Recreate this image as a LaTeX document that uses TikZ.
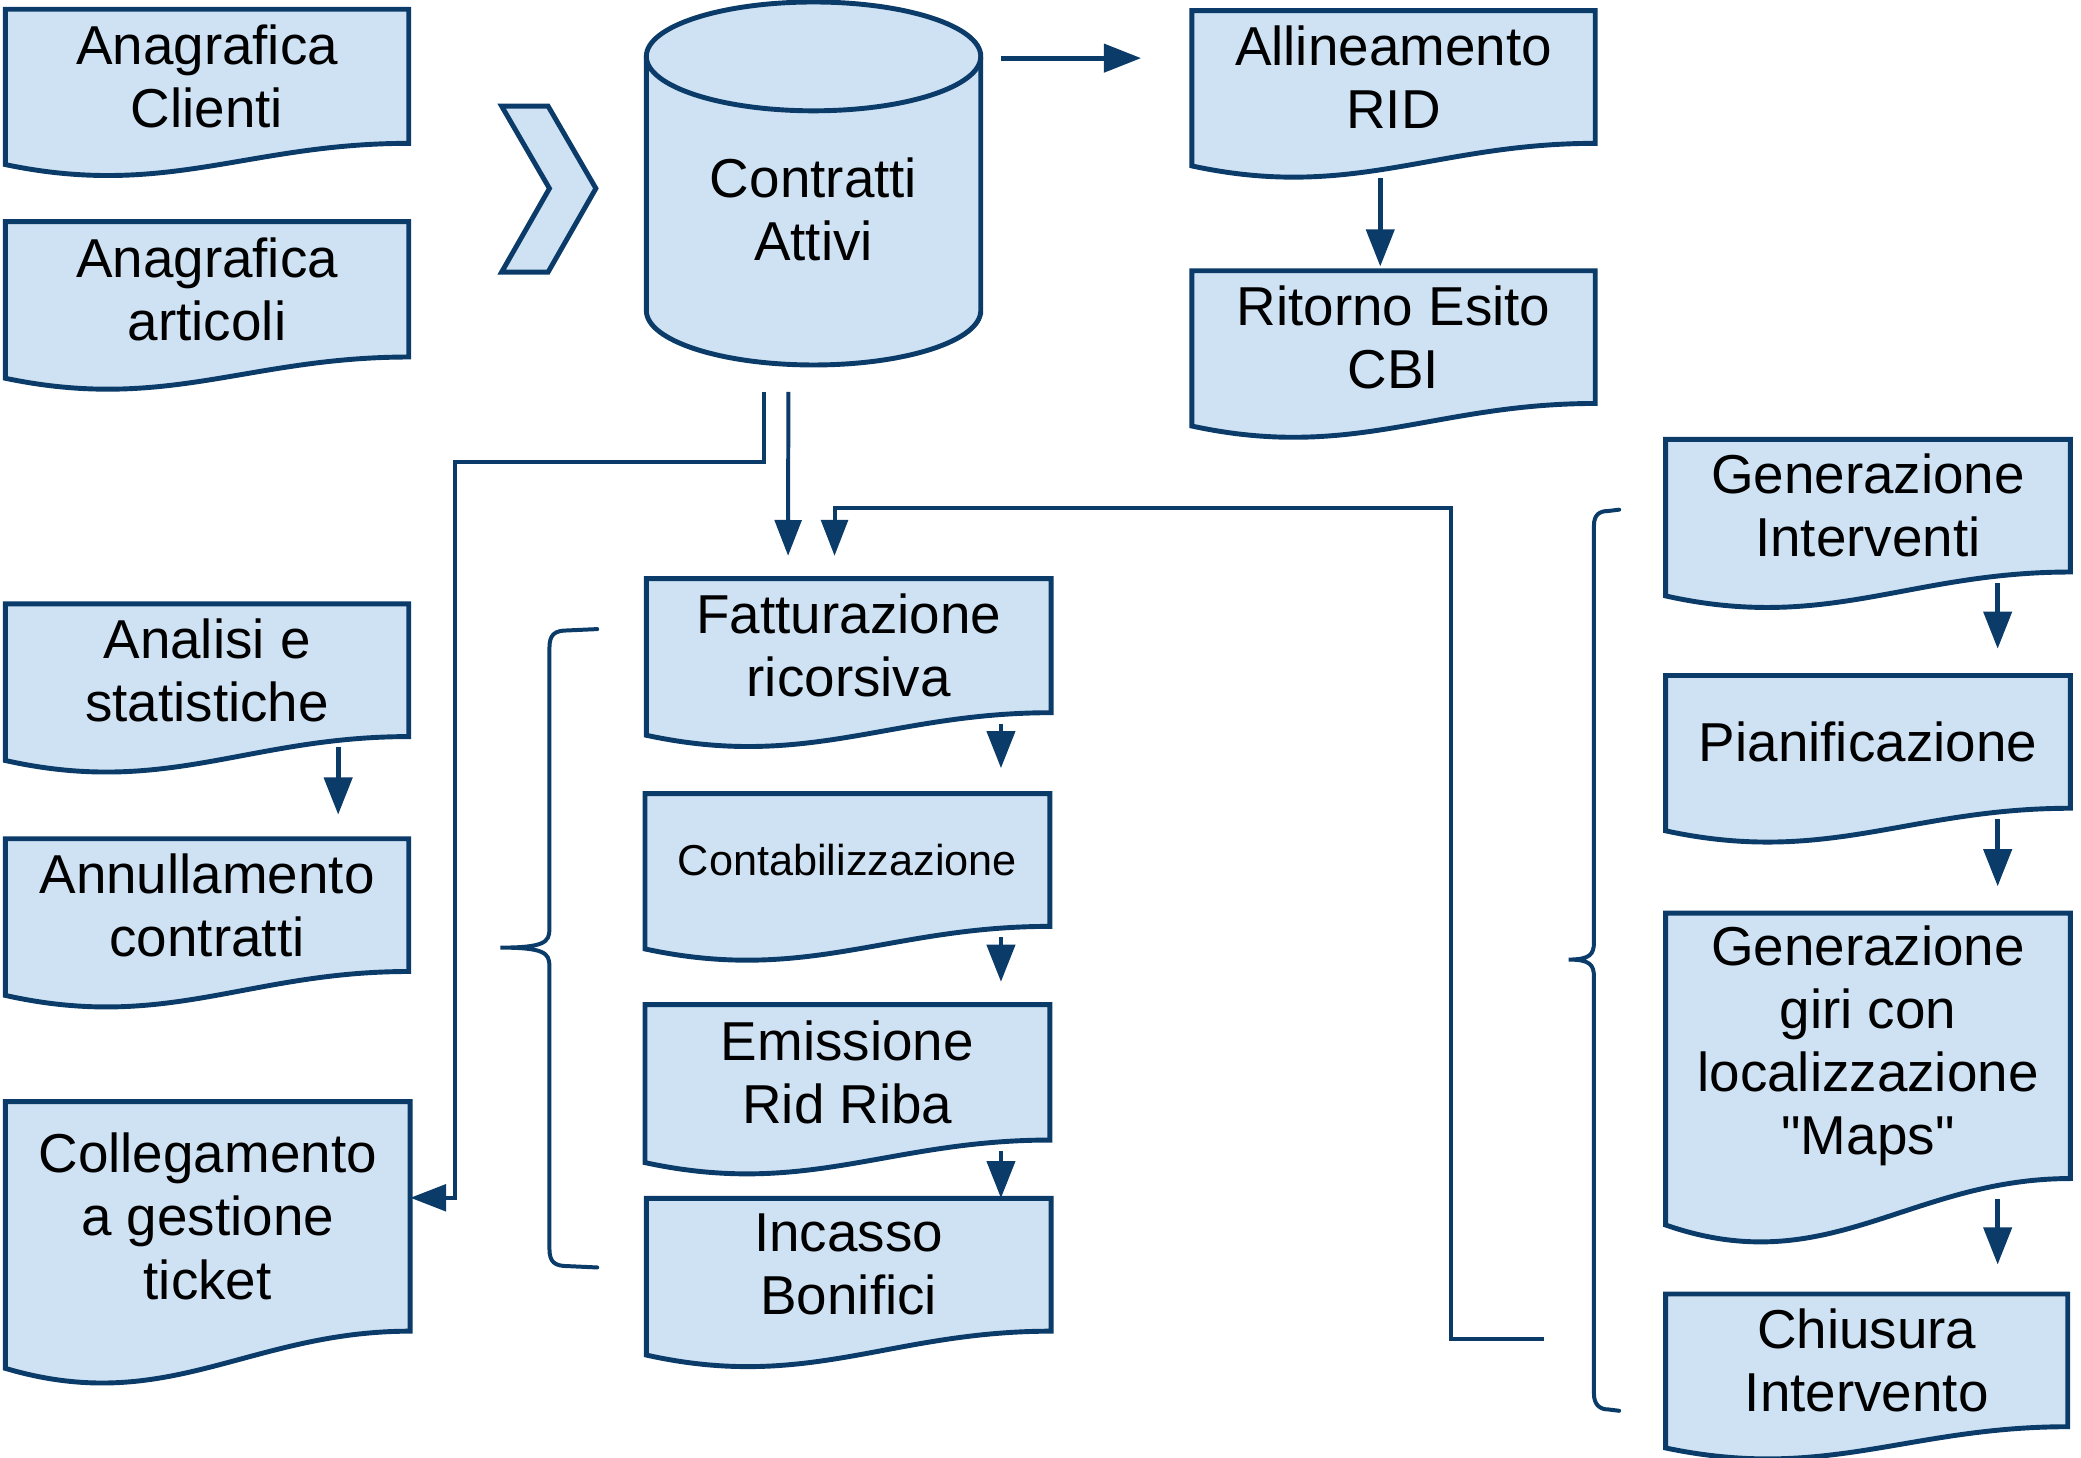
\documentclass[tikz,border=0pt]{standalone}
\usepackage{fontspec}
\setmainfont{Liberation Sans}
\usetikzlibrary{arrows.meta,calc}
\definecolor{boxfill}{HTML}{CFE2F3}
\definecolor{navy}{HTML}{0B3B68}
\tikzset{
  docshape/.style={fill=boxfill, draw=navy, line width=3.7pt, line join=miter},
  doctext/.style={inner sep=0pt, align=center, text=black, font=\fontsize{41.3}{47.5}\selectfont},
  smalltext/.style={font=\fontsize{32.6}{38}\selectfont},
  conn/.style={draw=navy, line width=3pt},
  arr/.style={conn, line width=3.6pt, -{Triangle[length=28pt,width=21pt]}},
  longarr/.style={conn, -{Triangle[length=27pt,width=20pt]}},
  bracestyle/.style={draw=navy, line width=3pt, line cap=round},
}
% #1 name, #2 left, #3 top, #4 right, #5 bottom (right corner), #6 wave drop, #7 node options, #8 text
\newcommand\docbox[8]{%
  \pgfmathsetmacro\dbw{#4-#2}%
  \pgfmathsetmacro\dbh{#5-#3}%
  \pgfmathsetmacro\dbd{0.9*#6+11}%
  \path[docshape] (#2,#3) -- (#4,#3) -- (#4,#5)
     .. controls ({#2+0.6*\dbw},#5) and ({#2+0.4*\dbw},{#5+#6+\dbd}) .. (#2,{#5+#6}) -- cycle;
  \node[doctext, minimum width=\dbw*1pt, minimum height=\dbh*1pt, #7] (#1) at ({(#2+#4)/2},{(#3+#5)/2}) {#8};
}
\begin{document}
\begin{tikzpicture}[x=1pt,y=-1pt]
\useasboundingbox (0,0) rectangle (1568,1098);

% left column
\docbox{ana1}{4}{7}{308}{108}{16}{}{Anagrafica\\Clienti}
\docbox{ana2}{4}{167}{308}{269}{16}{}{Anagrafica\\articoli}
\docbox{analisi}{4}{455}{308}{555}{18}{}{Analisi e\\statistiche}
\docbox{annul}{4}{632}{308}{732}{18}{}{Annullamento\\contratti}
\docbox{colleg}{4}{830}{309}{1003}{28}{}{Collegamento\\a gestione\\ticket}

% chevron
\path[docshape] (378,80) -- (413,80) -- (449,142) -- (413,205) -- (378,205) -- (414,142) -- cycle;

% cylinder
\path[docshape] (487,42.5) -- (487,234) .. controls (487,256.6) and (543.4,275) .. (613,275)
  .. controls (682.6,275) and (739,256.6) .. (739,234) -- (739,42.5)
  .. controls (739,19.9) and (682.6,1.5) .. (613,1.5)
  .. controls (543.4,1.5) and (487,19.9) .. (487,42.5) -- cycle;
\draw[navy, line width=3.7pt] (487,42.5) .. controls (487,65.1) and (543.4,83.5) .. (613,83.5)
  .. controls (682.6,83.5) and (739,65.1) .. (739,42.5);
\node[doctext, minimum width=252pt, minimum height=234pt] (cyl) at (613,158) {Contratti\\Attivi};

% top right
\docbox{allin}{898}{8}{1202}{108}{17}{}{Allineamento\\RID}
\docbox{ritorno}{898}{204}{1202}{304}{17}{}{Ritorno Esito\\CBI}

% middle column
\docbox{fatt}{487}{436}{792}{537}{17}{}{Fatturazione\\ricorsiva}
\docbox{contab}{486}{598}{791}{698}{17}{smalltext}{Contabilizzazione}
\docbox{emiss}{486}{757}{791}{859}{17}{}{Emissione\\Rid Riba}
\docbox{incasso}{487}{903}{792}{1003}{18}{}{Incasso\\Bonifici}

% right column
\docbox{genint}{1255}{331}{1560}{431}{18}{}{Generazione\\Interventi}
\docbox{pian}{1255}{509}{1560}{609}{17}{}{Pianificazione}
\docbox{giri}{1255}{688}{1560}{888}{35}{}{Generazione\\giri con\\localizzazione\\\textquotedbl Maps\textquotedbl}
\docbox{chius}{1255}{975}{1558}{1075}{16}{}{Chiusura\\Intervento}

% arrows
\draw[arr] ($(cyl.north east)+(15,3)$) -- ($(allin.north west)+(-38,36)$);
\draw[arr] ($(allin.south)+(-10,26)$) -- ($(ritorno.north)+(-10,-3)$);
\draw[arr] ($(analisi.south west)+(251,8)$) -- ($(annul.north west)+(251,-18)$);
\draw[arr] ($(fatt.south east)+(-38,8)$) -- ($(contab.north east)+(-37,-19)$);
\draw[arr] ($(contab.south east)+(-37,8)$) -- ($(emiss.north east)+(-37,-17)$);
\draw[arr] ($(emiss.south east)+(-37,8)$) -- ($(incasso.north east)+(-38,0)$);
\draw[arr] ($(genint.south east)+(-55,8)$) -- ($(pian.north east)+(-55,-20)$);
\draw[arr] ($(pian.south east)+(-55,8)$) -- ($(giri.north east)+(-55,-20)$);
\draw[arr] ($(giri.south east)+(-55,15)$) -- ($(chius.north east)+(-53,-22)$);

% connectors from the database
\coordinate (k1) at (343,348);
\draw[longarr] ($(cyl.south)+(-37,20)$) |- (k1) |- ($(colleg.east)+(0,-14)$);
\draw[longarr] ($(cyl.south)+(-19,20)$) -- ($(fatt.north west)+(107,-17)$);
\coordinate (c3) at (1163,1009);
\coordinate (k3) at (1093,383);
\draw[longarr] (c3) -| (k3) -| ($(fatt.north west)+(142,-17)$);

% braces
\draw[bracestyle] (450,474) -- (428,475) .. controls (418,475) and (414,478) .. (414,488)
  -- (414,700) .. controls (414,710) and (410,714) .. (377,714)
  .. controls (410,714) and (414,718) .. (414,728)
  -- (414,941) .. controls (414,951) and (418,954) .. (428,954) -- (450,955);
\draw[bracestyle] (1220,384) -- (1212,385) .. controls (1205,385) and (1201,388) .. (1201,396)
  -- (1201,710) .. controls (1201,719) and (1198,723) .. (1182,723)
  .. controls (1198,723) and (1201,727) .. (1201,736)
  -- (1201,1050) .. controls (1201,1058) and (1205,1062) .. (1212,1062) -- (1220,1063);
\end{tikzpicture}
\end{document}
